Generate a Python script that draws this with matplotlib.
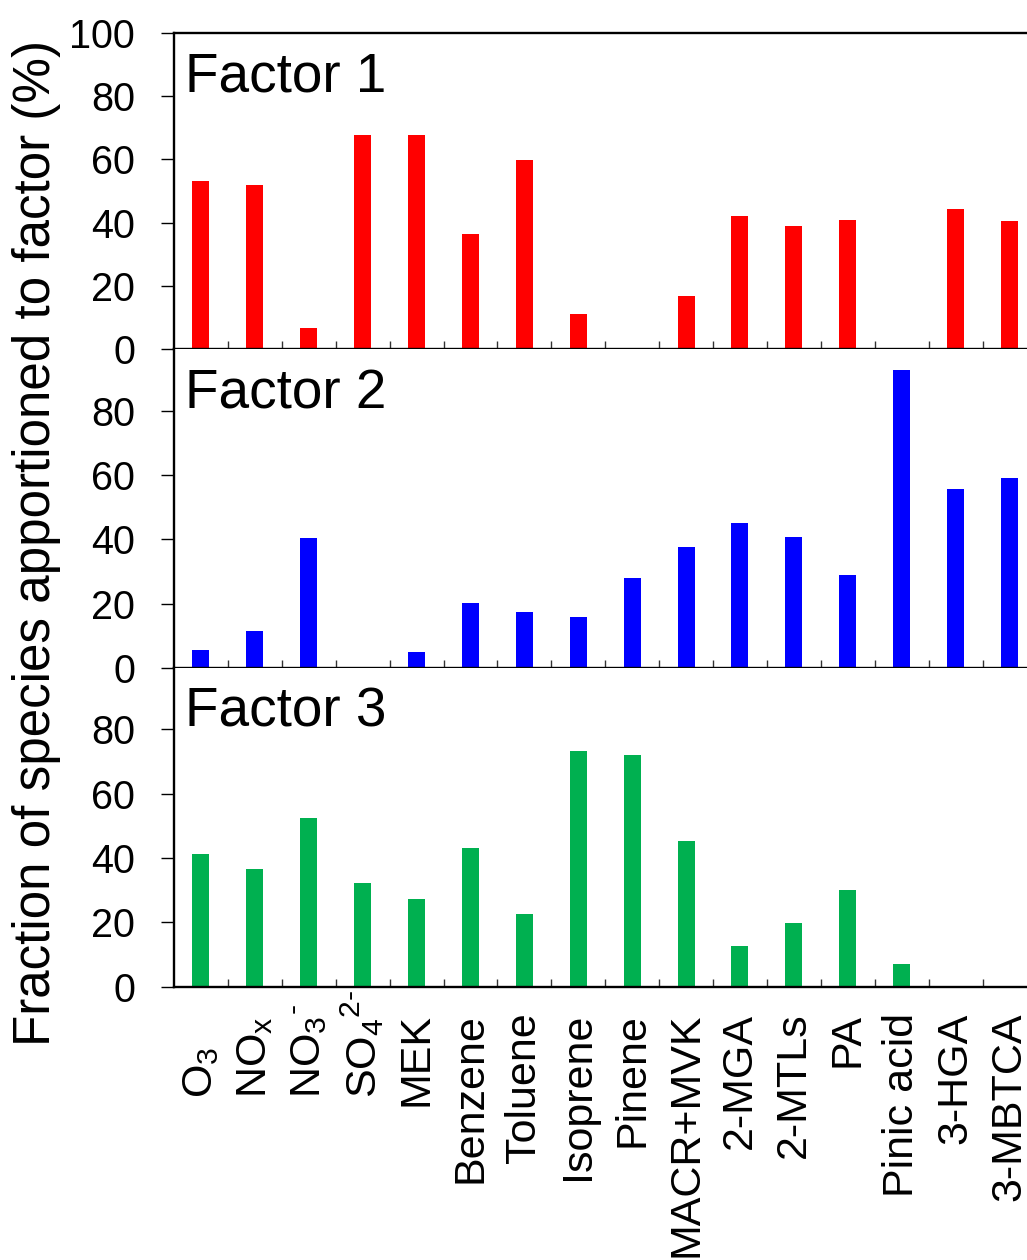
import numpy as np
import matplotlib
matplotlib.use("Agg")
import matplotlib.pyplot as plt
from matplotlib import transforms

plt.rcParams['font.family'] = ['Liberation Sans', 'DejaVu Sans']
plt.rcParams['mathtext.fontset'] = 'custom'
plt.rcParams['mathtext.rm'] = 'Liberation Sans'
plt.rcParams['mathtext.it'] = 'Liberation Sans:italic'
plt.rcParams['mathtext.default'] = 'regular'

# ---- data ----
categories = [r'O$_3$', r'NO$_x$', r'NO$_3{}^{\text{-}}$', r'SO$_4{}^{\text{2-}}$', 'MEK', 'Benzene',
              'Toluene', 'Isoprene', 'Pinene', 'MACR+MVK', '2-MGA', '2-MTLs', 'PA',
              'Pinic acid', '3-HGA', '3-MBTCA']
is_formula = [True, True, True, True] + [False] * 12

factor1 = [53.1, 51.8, 6.8, 67.7, 67.6, 36.3, 59.7, 11.0, 0.0, 16.9, 42.0, 39.0, 40.8, 0.0, 44.3, 40.6]
factor2 = [5.4, 11.3, 40.3, 0.0, 4.8, 20.2, 17.3, 15.7, 27.9, 37.5, 45.0, 40.6, 28.9, 92.6, 55.6, 59.1]
factor3 = [41.3, 36.6, 52.4, 32.1, 27.3, 43.1, 22.7, 73.1, 72.0, 45.2, 12.7, 19.9, 30.0, 7.0, 0.0, 0.0]

panel_titles = ['Factor 1', 'Factor 2', 'Factor 3']
colors = ['#FF0000', '#0000FF', '#00B050']
ytick_sets = [[0, 20, 40, 60, 80, 100], [0, 20, 40, 60, 80], [0, 20, 40, 60, 80]]
ylabel = 'Fraction of species apportioned to factor (%)'

# ---- figure ----
W, H = 1027, 1260
fig = plt.figure(figsize=(W / 100, H / 100), dpi=100)

left_px, right_px = 174, 1036.4
panels_px = [(32.7, 349.3, 100.0), (349.3, 667.7, 99.2), (667.7, 986.7, 99.1)]

x = np.arange(len(categories))
series = [factor1, factor2, factor3]
axes = []
for i, ((top, bot, ymax), vals) in enumerate(zip(panels_px, series)):
    ax = fig.add_axes([left_px / W, 1 - bot / H, (right_px - left_px) / W, (bot - top) / H])
    axes.append(ax)
    ax.bar(x, vals, width=0.315, color=colors[i], edgecolor='none')
    ax.set_xlim(-0.5, len(categories) - 0.5)
    ax.set_ylim(0, ymax)
    ax.set_yticks(ytick_sets[i])
    ax.tick_params(axis='y', direction='out', length=9.4, width=1.0, pad=18.5,
                   labelsize=28.5, colors='black')
    ax.set_xticks([])
    ax.set_xticks(x[:-1] + 0.5, minor=True)
    ax.tick_params(axis='x', which='minor', direction='in', length=5.8, width=1.0,
                   color='#333333', bottom=True, top=False, labelbottom=False)
    ax.spines['right'].set_visible(False)
    ax.spines['top'].set_visible(i == 0)
    for s in ['left', 'bottom', 'top']:
        ax.spines[s].set_linewidth(1.7)
    ax.annotate(panel_titles[i], xy=(0, 1), xycoords='axes fraction',
                xytext=(11, -19), textcoords='offset pixels',
                ha='left', va='top', fontsize=39.5)

# category labels below bottom panel
ax = axes[-1]
trans = transforms.blended_transform_factory(ax.transData, ax.transAxes)
for xi, lab, formula in zip(x, categories, is_formula):
    if formula:
        off = transforms.offset_copy(trans, fig=fig, x=0, y=-111 * 72 / 100, units='points')
        ax.text(xi, 0, lab, transform=off, rotation=90, ha='center', va='bottom', fontsize=31)
    else:
        off = transforms.offset_copy(trans, fig=fig, x=0, y=-26 * 72 / 100, units='points')
        ax.text(xi, 0, lab, transform=off, rotation=90, ha='center', va='top', fontsize=31)

fig.text(37 / W, 1 - 543 / H, ylabel, rotation=90, ha='center', va='center', fontsize=36.8)

fig.savefig('out.png', dpi=100)
